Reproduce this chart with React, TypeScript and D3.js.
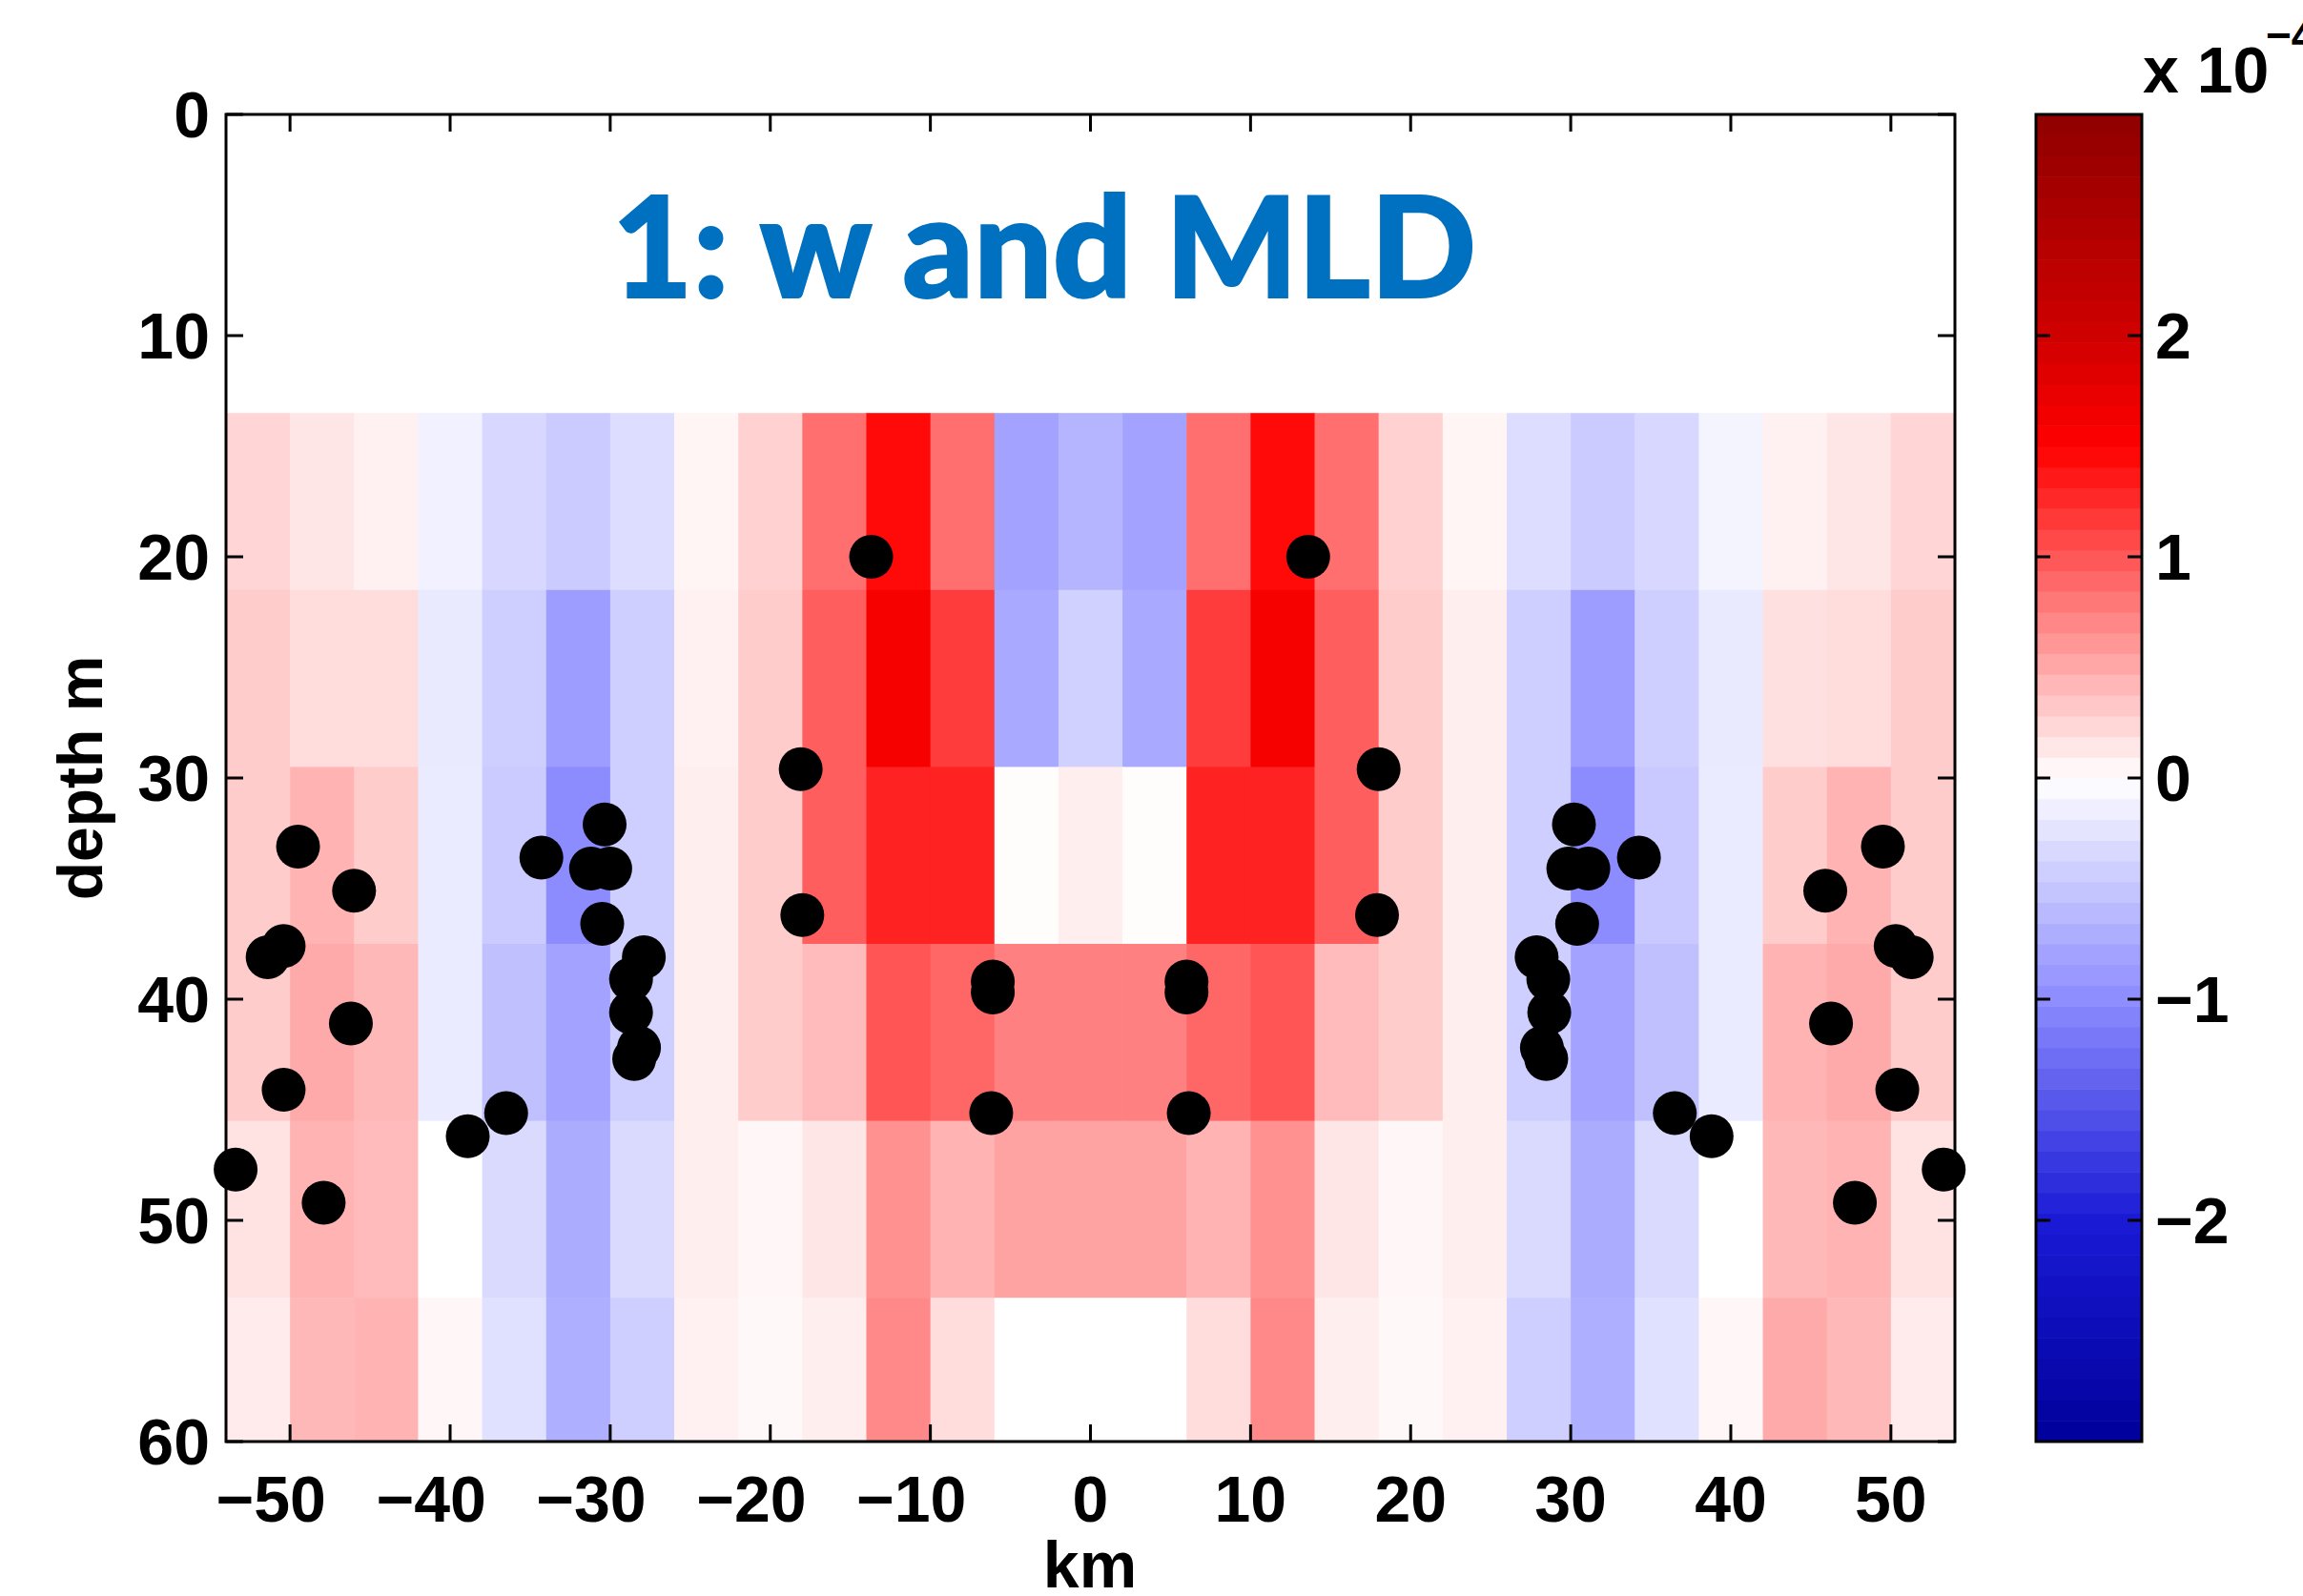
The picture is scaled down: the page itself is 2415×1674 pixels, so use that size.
import React from "react";
import * as d3 from "d3";

// ---- data ----
const xCenters = [-52, -48, -44, -40, -36, -32, -28, -24, -20, -16, -12, -8, -4, 0, 4, 8, 12, 16, 20, 24, 28, 32, 36, 40, 44, 48, 52];
const depthEdges = [13.5, 21.5, 29.5, 37.5, 45.5, 53.5, 61.5];
// vertical velocity w (x 1e-4), one array per depth row
const wRow0 = [0.25, 0.15, 0.08, -0.12, -0.35, -0.45, -0.3, 0.06, 0.27, 0.85, 1.45, 0.85, -0.8, -0.65, -0.8, 0.85, 1.45, 0.85, 0.27, 0.06, -0.3, -0.45, -0.35, -0.1, 0.08, 0.15, 0.25];
const wRow1 = [0.3, 0.2, 0.2, -0.18, -0.42, -0.85, -0.42, 0.08, 0.3, 0.95, 1.6, 1.15, -0.75, -0.4, -0.75, 1.15, 1.6, 0.95, 0.3, 0.1, -0.42, -0.85, -0.42, -0.18, 0.18, 0.2, 0.3];
const wRow2 = [0.3, 0.45, 0.3, -0.17, -0.45, -1.0, -0.42, 0.1, 0.3, 0.95, 1.3, 1.3, 0.02, 0.1, 0.02, 1.3, 1.3, 0.95, 0.3, 0.1, -0.42, -1.0, -0.47, -0.17, 0.3, 0.45, 0.3];
const wRow3 = [0.3, 0.5, 0.42, -0.17, -0.55, -0.8, -0.42, 0.1, 0.3, 0.4, 1.0, 0.9, 0.75, 0.75, 0.75, 0.9, 1.0, 0.4, 0.3, 0.1, -0.42, -0.8, -0.55, -0.17, 0.45, 0.5, 0.3];
const wRow4 = [0.17, 0.45, 0.4, 0, -0.32, -0.72, -0.32, 0.1, 0.05, 0.15, 0.65, 0.45, 0.55, 0.55, 0.55, 0.45, 0.65, 0.15, 0.05, 0.1, -0.32, -0.72, -0.32, 0, 0.42, 0.45, 0.17];
const wRow5 = [0.12, 0.42, 0.45, 0.05, -0.27, -0.7, -0.42, 0.08, 0.04, 0.1, 0.7, 0.2, 0, 0, 0, 0.2, 0.7, 0.1, 0.04, 0.08, -0.42, -0.7, -0.27, 0.05, 0.5, 0.42, 0.12];
const wRows = [wRow0, wRow1, wRow2, wRow3, wRow4, wRow5];

// MLD points
const mldX = [-49.5, -46.0, -50.4, -51.4, -46.2, -50.4, -53.4, -47.9, -38.9, -36.5, -34.3, -30.35, -31.2, -30.0, -30.5, -27.9, -28.7, -28.7, -28.2, -28.5, -18.1, -18.0, -13.7, -6.1, -6.1, -6.2,
  6.0, 6.0, 6.14, 13.6, 18.0, 17.9, 30.2, 29.85, 31.1, 34.26, 30.4, 27.87, 28.6, 28.66, 28.2, 28.47, 36.5, 38.8, 49.5, 45.9, 50.3, 51.3, 46.26, 50.4, 53.3, 47.75];
const mldDepth = [33.1, 35.1, 37.6, 38.1, 41.1, 44.1, 47.7, 49.2, 46.2, 45.15, 33.6, 32.1, 34.1, 34.1, 36.6, 38.1, 39.1, 40.6, 42.2, 42.7, 29.6, 36.2, 20.0, 39.2, 39.7, 45.15,
  39.2, 39.7, 45.15, 20.0, 29.6, 36.2, 32.1, 34.1, 34.1, 33.6, 36.6, 38.1, 39.1, 40.6, 42.2, 42.7, 45.15, 46.2, 33.1, 35.1, 37.6, 38.1, 41.1, 44.1, 47.7, 49.2];

const xTicks = [-50, -40, -30, -20, -10, 0, 10, 20, 30, 40, 50];
const yTicks = [0, 10, 20, 30, 40, 50, 60];
const cbTicks = [-2, -1, 0, 1, 2];
const cmapStops = [-3, -2, -1, 0, 1.5, 2, 3];
const cmapColors = ["#00009b", "#1a1ad6", "#8c8cff", "#ffffff", "#ff0000", "#d00000", "#8f0000"];

const W = 2415, H = 1674;
const L = 237, R = 2050, T = 120, B = 1512;
const CBL = 2135, CBR = 2246;
const FONT = "'Liberation Sans', Arial, Helvetica, sans-serif";

function fmt(v: number) {
  return v < 0 ? "\u2212" + Math.abs(v) : String(v);
}

export default function App() {
  const x = d3.scaleLinear().domain([-54, 54]).range([L, R]);
  const y = d3.scaleLinear().domain([0, 60]).range([T, B]);
  const color = d3.scaleLinear<string>().domain(cmapStops).range(cmapColors).interpolate(d3.interpolateRgb).clamp(true);
  const cb = d3.scaleLinear().domain([-3, 3]).range([B, T]);
  const nLev = 64;
  const levels = d3.range(nLev).map((i) => -3 + (6 * (i + 0.5)) / nLev);
  const fs = 68;
  const digitW = 0.556 * fs;

  const cells: JSX.Element[] = [];
  wRows.forEach((row, ri) => {
    const d0 = depthEdges[ri];
    const d1 = Math.min(depthEdges[ri + 1], 60);
    row.forEach((v, ci) => {
      const xc = xCenters[ci];
      const x0 = x(xc - 2), x1 = x(xc + 2);
      cells.push(
        <rect key={`c${ri}-${ci}`} x={x0} y={y(d0)} width={x1 - x0 + 0.6} height={y(d1) - y(d0) + 0.6}
          fill={color(v)} />
      );
    });
  });

  return (
    <svg width={W} height={H} style={{ position: "absolute", left: 0, top: 0, display: "block" }}
      xmlns="http://www.w3.org/2000/svg">
      <rect x={0} y={0} width={W} height={H} fill="#fff" />
      <g>{cells}</g>

      {/* title */}
      <text x={1095} y={312} textAnchor="middle" fontFamily="Lato, 'Open Sans', sans-serif" fontWeight={900}
        fontSize={146} fill="#0070c0" stroke="#0070c0" strokeWidth={2}>1: w and MLD</text>

      {/* MLD dots */}
      <g>
        {mldX.map((v, i) => (
          <circle key={`d${i}`} cx={x(v)} cy={y(mldDepth[i])} r={23} fill="#000" />
        ))}
      </g>

      {/* axes frame and ticks */}
      <rect x={L} y={T} width={R - L} height={B - T} fill="none" stroke="#000" strokeWidth={3} />
      {xTicks.map((t) => (
        <g key={`xt${t}`}>
          <line x1={x(t)} x2={x(t)} y1={B} y2={B - 18} stroke="#000" strokeWidth={3} />
          <line x1={x(t)} x2={x(t)} y1={T} y2={T + 18} stroke="#000" strokeWidth={3} />
          <text x={x(t) + (String(Math.abs(t)).length * digitW) / 2} y={1596} textAnchor="end"
            fontFamily={FONT} fontWeight="bold" fontSize={fs}>{fmt(t)}</text>
        </g>
      ))}
      {yTicks.map((t) => (
        <g key={`yt${t}`}>
          <line x1={L} x2={L + 18} y1={y(t)} y2={y(t)} stroke="#000" strokeWidth={3} />
          <line x1={R} x2={R - 18} y1={y(t)} y2={y(t)} stroke="#000" strokeWidth={3} />
          <text x={220} y={y(t) + 24} textAnchor="end" fontFamily={FONT} fontWeight="bold" fontSize={fs}>{fmt(t)}</text>
        </g>
      ))}
      <text x={1143} y={1665} textAnchor="middle" fontFamily={FONT} fontWeight="bold" fontSize={fs}>km</text>
      <text transform={`translate(107,816) rotate(-90)`} textAnchor="middle" fontFamily={FONT} fontWeight="bold"
        fontSize={66}>depth m</text>

      {/* colorbar */}
      <g>
        {levels.map((v, i) => {
          const y0 = cb(-3 + (6 * (i + 1)) / nLev);
          const y1 = cb(-3 + (6 * i) / nLev);
          return <rect key={`cb${i}`} x={CBL} y={y0} width={CBR - CBL} height={y1 - y0 + 0.6} fill={color(v)} />;
        })}
      </g>
      <rect x={CBL} y={T} width={CBR - CBL} height={B - T} fill="none" stroke="#000" strokeWidth={3} />
      {cbTicks.map((t) => (
        <g key={`cbt${t}`}>
          <line x1={CBL} x2={CBL + 15} y1={cb(t)} y2={cb(t)} stroke="#000" strokeWidth={3} />
          <line x1={CBR} x2={CBR - 15} y1={cb(t)} y2={cb(t)} stroke="#000" strokeWidth={3} />
          <text x={2260} y={cb(t) + 24} textAnchor="start" fontFamily={FONT} fontWeight="bold" fontSize={fs}>{fmt(t)}</text>
        </g>
      ))}
      <text x={2247} y={97} fontFamily={FONT} fontWeight="bold" fontSize={fs}>x 10</text>
      <text x={2376} y={53} fontFamily={FONT} fontWeight="bold" fontSize={46}>{"\u22124"}</text>
    </svg>
  );
}
